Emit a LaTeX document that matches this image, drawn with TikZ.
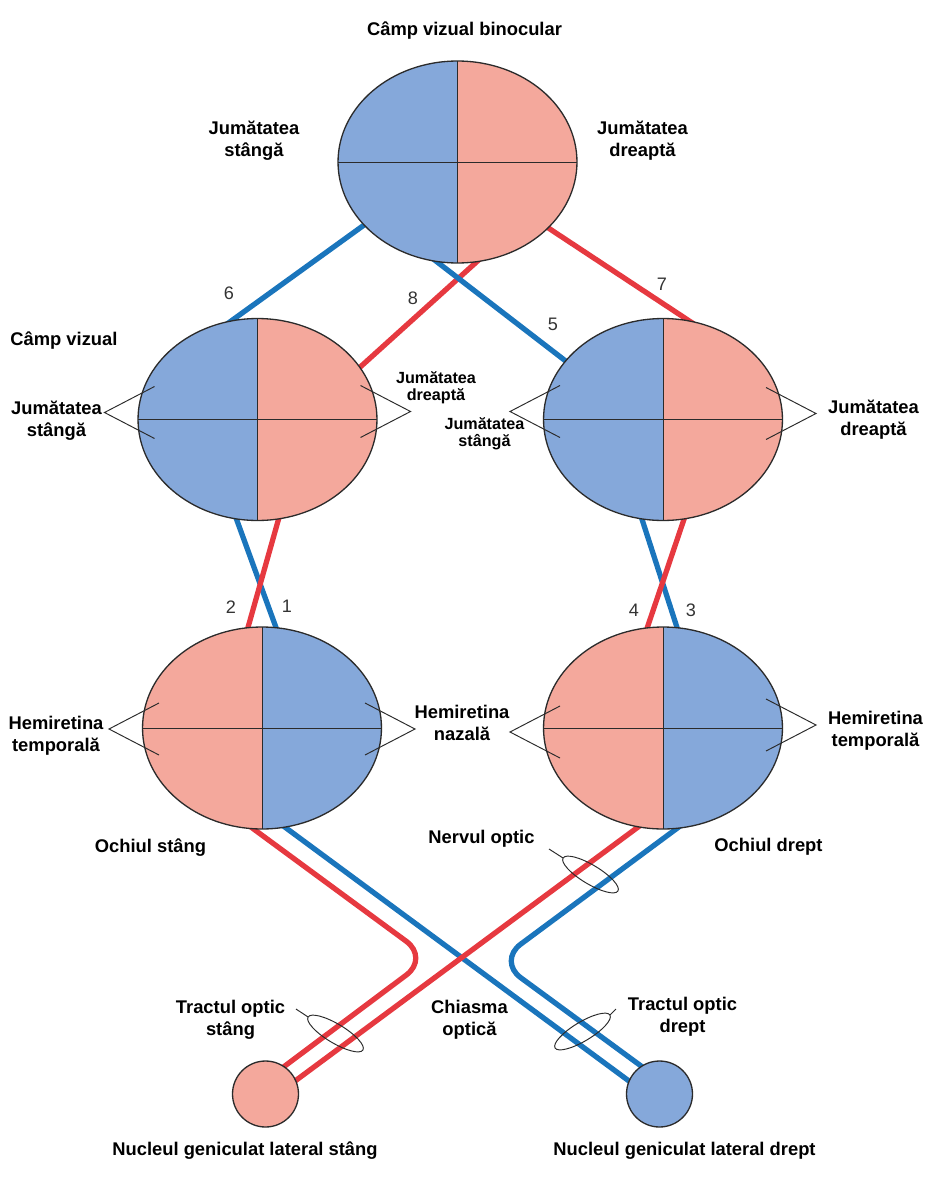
\documentclass[tikz,border=0pt]{standalone}
\usepackage{fontspec}
\setmainfont{Liberation Sans}
\usetikzlibrary{shapes.geometric,backgrounds}

\definecolor{fieldblue}{HTML}{85A8DA}
\definecolor{fieldpink}{HTML}{F4A89C}
\definecolor{nerveblue}{HTML}{1A75BC}
\definecolor{nervered}{HTML}{E63940}
\definecolor{outline}{HTML}{2B2B2B}
\definecolor{numgray}{HTML}{333333}

\tikzset{
	field/.style 2 args={ellipse, draw=outline, line width=0.75pt,
		minimum width=4.78cm, minimum height=4.04cm, inner sep=0pt, outer sep=0pt,
		path picture={
			\fill[#1] (path picture bounding box.south west) rectangle (path picture bounding box.north);
			\fill[#2] (path picture bounding box.south) rectangle (path picture bounding box.north east);
			\draw[outline, line width=0.55pt] (path picture bounding box.north) -- (path picture bounding box.south);
			\draw[outline, line width=0.55pt] (path picture bounding box.west) -- (path picture bounding box.east);
		}},
	nucleus/.style={circle, draw=outline, line width=0.75pt, minimum size=1.32cm, inner sep=0pt, outer sep=0pt},
	marker/.style={ellipse, draw=outline, line width=0.55pt, minimum width=1.28cm, minimum height=0.38cm, inner sep=0pt, outer sep=0pt},
	nerve/.style={line width=3pt, shorten <=-3pt, shorten >=-3pt},
	bluenerve/.style={nerve, draw=nerveblue},
	rednerve/.style={nerve, draw=nervered},
	pointer/.style={draw=outline, line width=0.55pt},
	lbl/.style={font=\fontsize{10.45}{12.5}\selectfont\bfseries, align=center, inner sep=0pt},
	smalllbl/.style={font=\fontsize{9.2}{9.6}\selectfont\bfseries, align=center, inner sep=0pt},
	num/.style={font=\fontsize{10.3}{12}\selectfont, text=numgray, inner sep=0pt}
}

\begin{document}
\begin{tikzpicture}[x=0.02cm, y=-0.02cm]

	\useasboundingbox (0,0) rectangle (929,1186);

	% ---- visual fields

	\node[field={fieldblue}{fieldpink}] (bino) at (457.5,162) {};
	\node[field={fieldblue}{fieldpink}] (lvf) at (257.5,419.5) {};
	\node[field={fieldblue}{fieldpink}] (rvf) at (663,419.5) {};

	% ---- eyes

	\node[field={fieldpink}{fieldblue}] (leye) at (262,728) {};
	\node[field={fieldpink}{fieldblue}] (reye) at (663,728) {};

	% ---- lateral geniculate nuclei

	\node[nucleus, fill=fieldpink] (lgn) at (265.5,1094) {};
	\node[nucleus, fill=fieldblue] (rgn) at (659.5,1094) {};

	% ---- bends of the tracts

	\coordinate (lbend) at (429,958);
	\coordinate (rbend) at (498,961);

	% ---- nerves

	\begin{pgfonlayer}{background}
		\draw[bluenerve] (bino.214) -- (lvf.105);
		\draw[rednerve] (bino.281) -- (lvf.27);
		\draw[bluenerve] (bino.258) -- (rvf.149);
		\draw[rednerve] (bino.324) -- (rvf.75);

		\draw[bluenerve] (lvf.258) -- (leye.82);
		\draw[rednerve] (lvf.282) -- (leye.98);
		\draw[bluenerve] (rvf.258) -- (reye.82);
		\draw[rednerve] (rvf.282) -- (reye.99);

		\draw[bluenerve] (leye.283) -- (rgn.157);
		\draw[rednerve] (reye.256) -- (lgn.24);
		\draw[rednerve, rounded corners=16pt] (leye.265) -- (lbend) -- (lgn.56);
		\draw[bluenerve, rounded corners=16pt] (reye.278) -- (rbend) -- (rgn.123);
	\end{pgfonlayer}

	% ---- pointers

	\foreach \f/\s/\m in {lvf/-1/-7, lvf/1/-8, rvf/-1/-8, rvf/1/-6, leye/-1/1, leye/1/1, reye/-1/4, reye/1/-3} {
		\draw[pointer] ([shift={(\s*103,\m-26)}]\f.center) -- ([shift={(\s*153,\m)}]\f.center) -- ([shift={(\s*103,\m+26)}]\f.center);
	}

	% ---- markers

	\node[marker, rotate=-31] (nervmk) at (590.5,874.5) {};
	\node[marker, rotate=-31] (tractl) at (335.5,1033.5) {};
	\node[marker, rotate=31] (tractr) at (582.5,1031.5) {};

	\coordinate (nervtip) at (549,849);
	\coordinate (tractltip) at (296,1009);
	\coordinate (tractrtip) at (616,1009);

	\draw[pointer] (nervmk.west) -- (nervtip);
	\draw[pointer] (tractl.west) -- (tractltip);
	\draw[pointer] (tractr.east) -- (tractrtip);

	% ---- numbers

	\foreach \n/\x/\y in {1/287/606, 2/231/607, 3/691/610, 4/634/610, 5/553/324, 6/229/293, 7/662/284, 8/413/298} {
		\node[num] (num\n) at (\x,\y) {\n};
	}

	% ---- labels

	\node[lbl] (title) at (464.5,31) {Câmp vizual binocular};
	\node[lbl] (binol) at (254,141) {Jumătatea\\stângă};
	\node[lbl] (binor) at (642.5,141) {Jumătatea\\dreaptă};

	\node[lbl, anchor=west] (vf) at (10,341) {Câmp vizual};
	\node[lbl] (lvfl) at (56.5,421) {Jumătatea\\stângă};
	\node[smalllbl] (lvfr) at (436,388) {Jumătatea\\dreaptă};
	\node[smalllbl] (rvfl) at (484.5,434) {Jumătatea\\stângă};
	\node[lbl] (rvfr) at (873.5,420) {Jumătatea\\dreaptă};

	\node[lbl] (ltemp) at (56,736) {Hemiretina\\temporală};
	\node[lbl] (nasal) at (462,723) {Hemiretina\\nazală};
	\node[lbl] (rtemp) at (875.5,731) {Hemiretina\\temporală};

	\node[lbl] (leyel) at (150.5,848) {Ochiul stâng};
	\node[lbl] (nerv) at (481.5,839) {Nervul optic};
	\node[lbl] (reyel) at (768.5,847) {Ochiul drept};

	\node[lbl] (tractll) at (230.5,1020) {Tractul optic\\stâng};
	\node[lbl] (chiasm) at (469.5,1020) {Chiasma\\optică};
	\node[lbl] (tractrl) at (682.5,1017) {Tractul optic\\drept};

	\node[lbl] (lgnl) at (245,1151) {Nucleul geniculat lateral stâng};
	\node[lbl] (rgnl) at (684.5,1151) {Nucleul geniculat lateral drept};

\end{tikzpicture}
\end{document}
